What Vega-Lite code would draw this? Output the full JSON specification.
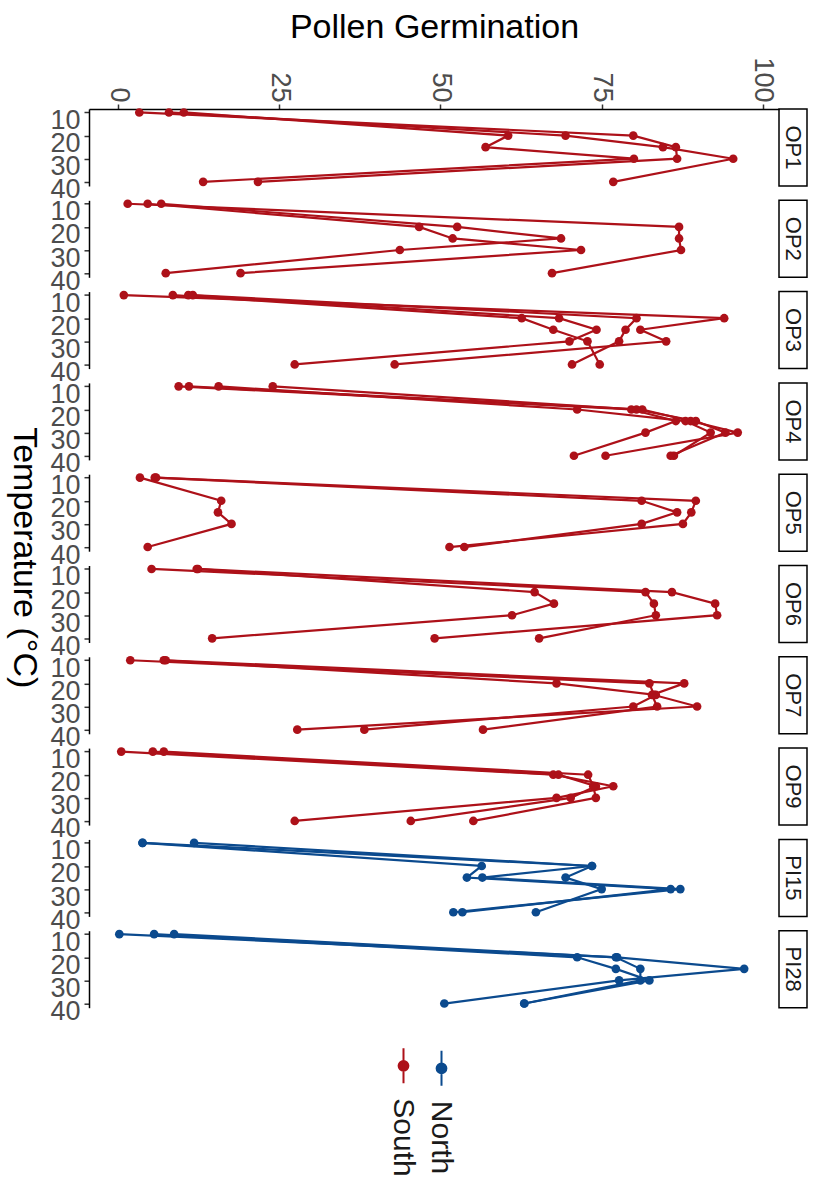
{
  "$schema": "https://vega.github.io/schema/vega-lite/v6.json",
  "padding": {"left": 5, "top": 10, "right": 5, "bottom": 5},
  "background": "white",
  "bounds": "flush",
  "columns": 2,
  "spacing": {"row": 14.3, "column": 0},
  "datasets": {
    "pts": [
      {"g":"OP1","r":"A","t":10,"v":10.2,"s":"South"},{"g":"OP1","r":"A","t":20,"v":60.5,"s":"South"},{"g":"OP1","r":"A","t":25,"v":57.0,"s":"South"},{"g":"OP1","r":"A","t":30,"v":80.0,"s":"South"},{"g":"OP1","r":"A","t":40,"v":13.2,"s":"South"},
      {"g":"OP1","r":"B","t":10,"v":7.9,"s":"South"},{"g":"OP1","r":"B","t":20,"v":69.4,"s":"South"},{"g":"OP1","r":"B","t":25,"v":84.5,"s":"South"},{"g":"OP1","r":"B","t":30,"v":95.4,"s":"South"},{"g":"OP1","r":"B","t":40,"v":76.8,"s":"South"},
      {"g":"OP1","r":"C","t":10,"v":3.3,"s":"South"},{"g":"OP1","r":"C","t":20,"v":79.9,"s":"South"},{"g":"OP1","r":"C","t":25,"v":86.5,"s":"South"},{"g":"OP1","r":"C","t":30,"v":86.7,"s":"South"},{"g":"OP1","r":"C","t":40,"v":21.7,"s":"South"},

      {"g":"OP2","r":"A","t":10,"v":1.5,"s":"South"},{"g":"OP2","r":"A","t":20,"v":87.0,"s":"South"},{"g":"OP2","r":"A","t":25,"v":87.0,"s":"South"},{"g":"OP2","r":"A","t":30,"v":87.3,"s":"South"},{"g":"OP2","r":"A","t":40,"v":67.3,"s":"South"},
      {"g":"OP2","r":"B","t":10,"v":4.6,"s":"South"},{"g":"OP2","r":"B","t":20,"v":46.7,"s":"South"},{"g":"OP2","r":"B","t":25,"v":51.9,"s":"South"},{"g":"OP2","r":"B","t":30,"v":71.8,"s":"South"},{"g":"OP2","r":"B","t":40,"v":19.0,"s":"South"},
      {"g":"OP2","r":"C","t":10,"v":6.7,"s":"South"},{"g":"OP2","r":"C","t":20,"v":52.6,"s":"South"},{"g":"OP2","r":"C","t":25,"v":68.7,"s":"South"},{"g":"OP2","r":"C","t":30,"v":43.7,"s":"South"},{"g":"OP2","r":"C","t":40,"v":7.4,"s":"South"},

      {"g":"OP3","r":"A","t":10,"v":0.9,"s":"South"},{"g":"OP3","r":"A","t":20,"v":94.0,"s":"South"},{"g":"OP3","r":"A","t":25,"v":81.0,"s":"South"},{"g":"OP3","r":"A","t":30,"v":85.0,"s":"South"},{"g":"OP3","r":"A","t":40,"v":42.9,"s":"South"},
      {"g":"OP3","r":"B","t":10,"v":8.5,"s":"South"},{"g":"OP3","r":"B","t":20,"v":62.6,"s":"South"},{"g":"OP3","r":"B","t":25,"v":67.5,"s":"South"},{"g":"OP3","r":"B","t":30,"v":72.8,"s":"South"},{"g":"OP3","r":"B","t":40,"v":74.7,"s":"South"},
      {"g":"OP3","r":"C","t":10,"v":10.9,"s":"South"},{"g":"OP3","r":"C","t":20,"v":68.4,"s":"South"},{"g":"OP3","r":"C","t":25,"v":74.2,"s":"South"},{"g":"OP3","r":"C","t":30,"v":70.0,"s":"South"},{"g":"OP3","r":"C","t":40,"v":27.4,"s":"South"},
      {"g":"OP3","r":"D","t":10,"v":11.6,"s":"South"},{"g":"OP3","r":"D","t":20,"v":80.4,"s":"South"},{"g":"OP3","r":"D","t":25,"v":78.7,"s":"South"},{"g":"OP3","r":"D","t":30,"v":77.7,"s":"South"},{"g":"OP3","r":"D","t":40,"v":70.4,"s":"South"},

      {"g":"OP4","r":"A","t":10,"v":9.4,"s":"South"},{"g":"OP4","r":"A","t":20,"v":79.6,"s":"South"},{"g":"OP4","r":"A","t":25,"v":86.5,"s":"South"},{"g":"OP4","r":"A","t":30,"v":81.8,"s":"South"},{"g":"OP4","r":"A","t":40,"v":70.7,"s":"South"},
      {"g":"OP4","r":"B","t":10,"v":11.0,"s":"South"},{"g":"OP4","r":"B","t":20,"v":81.3,"s":"South"},{"g":"OP4","r":"B","t":25,"v":88.8,"s":"South"},{"g":"OP4","r":"B","t":30,"v":96.1,"s":"South"},{"g":"OP4","r":"B","t":40,"v":75.6,"s":"South"},
      {"g":"OP4","r":"C","t":10,"v":15.6,"s":"South"},{"g":"OP4","r":"C","t":20,"v":71.2,"s":"South"},{"g":"OP4","r":"C","t":25,"v":88.0,"s":"South"},{"g":"OP4","r":"C","t":30,"v":91.9,"s":"South"},{"g":"OP4","r":"C","t":40,"v":86.2,"s":"South"},
      {"g":"OP4","r":"D","t":10,"v":24.0,"s":"South"},{"g":"OP4","r":"D","t":20,"v":80.4,"s":"South"},{"g":"OP4","r":"D","t":25,"v":89.6,"s":"South"},{"g":"OP4","r":"D","t":30,"v":94.2,"s":"South"},{"g":"OP4","r":"D","t":40,"v":85.7,"s":"South"},

      {"g":"OP5","r":"A","t":10,"v":3.4,"s":"South"},{"g":"OP5","r":"A","t":20,"v":16.0,"s":"South"},{"g":"OP5","r":"A","t":25,"v":15.5,"s":"South"},{"g":"OP5","r":"A","t":30,"v":17.6,"s":"South"},{"g":"OP5","r":"A","t":40,"v":4.6,"s":"South"},
      {"g":"OP5","r":"B","t":10,"v":5.7,"s":"South"},{"g":"OP5","r":"B","t":20,"v":81.2,"s":"South"},{"g":"OP5","r":"B","t":25,"v":86.7,"s":"South"},{"g":"OP5","r":"B","t":30,"v":81.2,"s":"South"},{"g":"OP5","r":"B","t":40,"v":53.7,"s":"South"},
      {"g":"OP5","r":"C","t":10,"v":5.9,"s":"South"},{"g":"OP5","r":"C","t":20,"v":89.6,"s":"South"},{"g":"OP5","r":"C","t":25,"v":88.9,"s":"South"},{"g":"OP5","r":"C","t":30,"v":87.6,"s":"South"},{"g":"OP5","r":"C","t":40,"v":51.4,"s":"South"},

      {"g":"OP6","r":"A","t":10,"v":12.2,"s":"South"},{"g":"OP6","r":"A","t":20,"v":64.6,"s":"South"},{"g":"OP6","r":"A","t":25,"v":67.6,"s":"South"},{"g":"OP6","r":"A","t":30,"v":61.1,"s":"South"},{"g":"OP6","r":"A","t":40,"v":14.6,"s":"South"},
      {"g":"OP6","r":"B","t":10,"v":5.2,"s":"South"},{"g":"OP6","r":"B","t":20,"v":81.8,"s":"South"},{"g":"OP6","r":"B","t":25,"v":83.1,"s":"South"},{"g":"OP6","r":"B","t":30,"v":83.4,"s":"South"},{"g":"OP6","r":"B","t":40,"v":65.3,"s":"South"},
      {"g":"OP6","r":"C","t":10,"v":12.4,"s":"South"},{"g":"OP6","r":"C","t":20,"v":85.9,"s":"South"},{"g":"OP6","r":"C","t":25,"v":92.6,"s":"South"},{"g":"OP6","r":"C","t":30,"v":92.9,"s":"South"},{"g":"OP6","r":"C","t":40,"v":49.1,"s":"South"},

      {"g":"OP7","r":"A","t":10,"v":1.9,"s":"South"},{"g":"OP7","r":"A","t":20,"v":82.4,"s":"South"},{"g":"OP7","r":"A","t":25,"v":83.1,"s":"South"},{"g":"OP7","r":"A","t":30,"v":89.8,"s":"South"},{"g":"OP7","r":"A","t":40,"v":27.8,"s":"South"},
      {"g":"OP7","r":"B","t":10,"v":7.1,"s":"South"},{"g":"OP7","r":"B","t":20,"v":68.0,"s":"South"},{"g":"OP7","r":"B","t":25,"v":83.4,"s":"South"},{"g":"OP7","r":"B","t":30,"v":79.9,"s":"South"},{"g":"OP7","r":"B","t":40,"v":38.2,"s":"South"},
      {"g":"OP7","r":"C","t":10,"v":7.4,"s":"South"},{"g":"OP7","r":"C","t":20,"v":87.8,"s":"South"},{"g":"OP7","r":"C","t":25,"v":82.8,"s":"South"},{"g":"OP7","r":"C","t":30,"v":83.6,"s":"South"},{"g":"OP7","r":"C","t":40,"v":56.6,"s":"South"},

      {"g":"OP9","r":"A","t":10,"v":0.5,"s":"South"},{"g":"OP9","r":"A","t":20,"v":67.5,"s":"South"},{"g":"OP9","r":"A","t":25,"v":76.8,"s":"South"},{"g":"OP9","r":"A","t":30,"v":68.0,"s":"South"},{"g":"OP9","r":"A","t":40,"v":27.4,"s":"South"},
      {"g":"OP9","r":"B","t":10,"v":5.4,"s":"South"},{"g":"OP9","r":"B","t":20,"v":68.3,"s":"South"},{"g":"OP9","r":"B","t":25,"v":74.1,"s":"South"},{"g":"OP9","r":"B","t":30,"v":70.2,"s":"South"},{"g":"OP9","r":"B","t":40,"v":45.4,"s":"South"},
      {"g":"OP9","r":"C","t":10,"v":7.1,"s":"South"},{"g":"OP9","r":"C","t":20,"v":72.9,"s":"South"},{"g":"OP9","r":"C","t":25,"v":73.7,"s":"South"},{"g":"OP9","r":"C","t":30,"v":74.1,"s":"South"},{"g":"OP9","r":"C","t":40,"v":55.1,"s":"South"},

      {"g":"PI15","r":"A","t":10,"v":3.8,"s":"North"},{"g":"PI15","r":"A","t":20,"v":56.4,"s":"North"},{"g":"PI15","r":"A","t":25,"v":54.1,"s":"North"},{"g":"PI15","r":"A","t":30,"v":85.7,"s":"North"},{"g":"PI15","r":"A","t":40,"v":53.4,"s":"North"},
      {"g":"PI15","r":"B","t":10,"v":3.8,"s":"North"},{"g":"PI15","r":"B","t":20,"v":73.5,"s":"North"},{"g":"PI15","r":"B","t":25,"v":56.5,"s":"North"},{"g":"PI15","r":"B","t":30,"v":87.2,"s":"North"},{"g":"PI15","r":"B","t":40,"v":52.0,"s":"North"},
      {"g":"PI15","r":"C","t":10,"v":11.8,"s":"North"},{"g":"PI15","r":"C","t":20,"v":73.5,"s":"North"},{"g":"PI15","r":"C","t":25,"v":69.4,"s":"North"},{"g":"PI15","r":"C","t":30,"v":75.0,"s":"North"},{"g":"PI15","r":"C","t":40,"v":64.8,"s":"North"},

      {"g":"PI28","r":"A","t":10,"v":0.2,"s":"North"},{"g":"PI28","r":"A","t":20,"v":77.4,"s":"North"},{"g":"PI28","r":"A","t":25,"v":97.1,"s":"North"},{"g":"PI28","r":"A","t":30,"v":77.7,"s":"North"},{"g":"PI28","r":"A","t":40,"v":50.6,"s":"North"},
      {"g":"PI28","r":"B","t":10,"v":5.6,"s":"North"},{"g":"PI28","r":"B","t":20,"v":71.2,"s":"North"},{"g":"PI28","r":"B","t":25,"v":77.2,"s":"North"},{"g":"PI28","r":"B","t":30,"v":82.4,"s":"North"},{"g":"PI28","r":"B","t":40,"v":63.0,"s":"North"},
      {"g":"PI28","r":"C","t":10,"v":8.7,"s":"North"},{"g":"PI28","r":"C","t":20,"v":77.2,"s":"North"},{"g":"PI28","r":"C","t":25,"v":81.0,"s":"North"},{"g":"PI28","r":"C","t":30,"v":81.0,"s":"North"},{"g":"PI28","r":"C","t":40,"v":63.0,"s":"North"}
    ],
    "panels": [
      {"g":"OP1"},{"g":"OP2"},{"g":"OP3"},{"g":"OP4"},{"g":"OP5"},{"g":"OP6"},{"g":"OP7"},{"g":"OP9"},{"g":"PI15"},{"g":"PI28"}
    ]
  },
  "concat": [
      {"width": 690, "height": 77, "data": {"name": "pts"}, "transform": [{"filter": "datum.g === 'OP1'"}],
       "encoding": {
         "x": {"field": "v", "type": "quantitative", "scale": {"domain": [-4.5, 102.5], "nice": false, "zero": false},
               "axis": {"orient": "top", "values": [0, 25, 50, 75, 100], "labelAngle": 90, "labelAlign": "right", "labelBaseline": "middle", "tickSize": 5, "labelPadding": 2, "title": "Pollen Germination", "titleFontSize": 34, "titlePadding": 12}},
         "y": {"field": "t", "type": "quantitative", "scale": {"domain": [8.5, 41.8], "reverse": true, "nice": false, "zero": false}, "axis": {"values": [10, 20, 30, 40], "title": null}},
         "color": {"field": "s", "type": "nominal", "scale": {"domain": ["South", "North"], "range": ["#AD1119", "#0B4A8E"]},
                   "legend": {"title": null,
                     "encode": {
                       "labels": {"update": {"angle": {"value": 90}, "align": {"value": "left"}, "baseline": {"value": "middle"}, "x": {"value": 18}, "y": {"value": 51}}},
                       "symbols": {"update": {"fill": {"scale": "color", "field": "value"}, "stroke": {"scale": "color", "field": "value"}, "strokeWidth": {"value": 2}}}
                     }}},
         "detail": {"field": "r"},
         "order": {"field": "t", "type": "quantitative"}
       },
       "layer": [{"mark": {"type": "line", "strokeWidth": 2.2}}, {"mark": {"type": "circle", "size": 75, "opacity": 1}}]},
      {"width": 28, "height": 77, "data": {"name": "panels"}, "transform": [{"filter": "datum.g === 'OP1'"}], "view": {"stroke": "black", "strokeWidth": 1.5},
       "mark": {"type": "text", "angle": 90, "fontSize": 22, "color": "#1a1a1a"}, "encoding": {"text": {"field": "g", "type": "nominal"}}},

      {"width": 690, "height": 77, "data": {"name": "pts"}, "transform": [{"filter": "datum.g === 'OP2'"}],
       "encoding": {
         "x": {"field": "v", "type": "quantitative", "scale": {"domain": [-4.5, 102.5], "nice": false, "zero": false}, "axis": null},
         "y": {"field": "t", "type": "quantitative", "scale": {"domain": [8.5, 41.8], "reverse": true, "nice": false, "zero": false}, "axis": {"values": [10, 20, 30, 40], "title": null}},
         "color": {"field": "s", "type": "nominal", "scale": {"domain": ["South", "North"], "range": ["#AD1119", "#0B4A8E"]}},
         "detail": {"field": "r"},
         "order": {"field": "t", "type": "quantitative"}
       },
       "layer": [{"mark": {"type": "line", "strokeWidth": 2.2}}, {"mark": {"type": "circle", "size": 75, "opacity": 1}}]},
      {"width": 28, "height": 77, "data": {"name": "panels"}, "transform": [{"filter": "datum.g === 'OP2'"}], "view": {"stroke": "black", "strokeWidth": 1.5},
       "mark": {"type": "text", "angle": 90, "fontSize": 22, "color": "#1a1a1a"}, "encoding": {"text": {"field": "g", "type": "nominal"}}},

      {"width": 690, "height": 77, "data": {"name": "pts"}, "transform": [{"filter": "datum.g === 'OP3'"}],
       "encoding": {
         "x": {"field": "v", "type": "quantitative", "scale": {"domain": [-4.5, 102.5], "nice": false, "zero": false}, "axis": null},
         "y": {"field": "t", "type": "quantitative", "scale": {"domain": [8.5, 41.8], "reverse": true, "nice": false, "zero": false}, "axis": {"values": [10, 20, 30, 40], "title": null}},
         "color": {"field": "s", "type": "nominal", "scale": {"domain": ["South", "North"], "range": ["#AD1119", "#0B4A8E"]}},
         "detail": {"field": "r"},
         "order": {"field": "t", "type": "quantitative"}
       },
       "layer": [{"mark": {"type": "line", "strokeWidth": 2.2}}, {"mark": {"type": "circle", "size": 75, "opacity": 1}}]},
      {"width": 28, "height": 77, "data": {"name": "panels"}, "transform": [{"filter": "datum.g === 'OP3'"}], "view": {"stroke": "black", "strokeWidth": 1.5},
       "mark": {"type": "text", "angle": 90, "fontSize": 22, "color": "#1a1a1a"}, "encoding": {"text": {"field": "g", "type": "nominal"}}},

      {"width": 690, "height": 77, "data": {"name": "pts"}, "transform": [{"filter": "datum.g === 'OP4'"}],
       "encoding": {
         "x": {"field": "v", "type": "quantitative", "scale": {"domain": [-4.5, 102.5], "nice": false, "zero": false}, "axis": null},
         "y": {"field": "t", "type": "quantitative", "scale": {"domain": [8.5, 41.8], "reverse": true, "nice": false, "zero": false}, "axis": {"values": [10, 20, 30, 40], "title": null}},
         "color": {"field": "s", "type": "nominal", "scale": {"domain": ["South", "North"], "range": ["#AD1119", "#0B4A8E"]}},
         "detail": {"field": "r"},
         "order": {"field": "t", "type": "quantitative"}
       },
       "layer": [{"mark": {"type": "line", "strokeWidth": 2.2}}, {"mark": {"type": "circle", "size": 75, "opacity": 1}}]},
      {"width": 28, "height": 77, "data": {"name": "panels"}, "transform": [{"filter": "datum.g === 'OP4'"}], "view": {"stroke": "black", "strokeWidth": 1.5},
       "mark": {"type": "text", "angle": 90, "fontSize": 22, "color": "#1a1a1a"}, "encoding": {"text": {"field": "g", "type": "nominal"}}},

      {"width": 690, "height": 77, "data": {"name": "pts"}, "transform": [{"filter": "datum.g === 'OP5'"}],
       "encoding": {
         "x": {"field": "v", "type": "quantitative", "scale": {"domain": [-4.5, 102.5], "nice": false, "zero": false}, "axis": null},
         "y": {"field": "t", "type": "quantitative", "scale": {"domain": [8.5, 41.8], "reverse": true, "nice": false, "zero": false},
               "axis": {"values": [10, 20, 30, 40], "title": "Temperature (°C)", "titleAngle": 90, "titleFontSize": 34, "titleX": -66, "titleY": 83, "titleAlign": "center", "titleBaseline": "middle"}},
         "color": {"field": "s", "type": "nominal", "scale": {"domain": ["South", "North"], "range": ["#AD1119", "#0B4A8E"]}},
         "detail": {"field": "r"},
         "order": {"field": "t", "type": "quantitative"}
       },
       "layer": [{"mark": {"type": "line", "strokeWidth": 2.2}}, {"mark": {"type": "circle", "size": 75, "opacity": 1}}]},
      {"width": 28, "height": 77, "data": {"name": "panels"}, "transform": [{"filter": "datum.g === 'OP5'"}], "view": {"stroke": "black", "strokeWidth": 1.5},
       "mark": {"type": "text", "angle": 90, "fontSize": 22, "color": "#1a1a1a"}, "encoding": {"text": {"field": "g", "type": "nominal"}}},

      {"width": 690, "height": 77, "data": {"name": "pts"}, "transform": [{"filter": "datum.g === 'OP6'"}],
       "encoding": {
         "x": {"field": "v", "type": "quantitative", "scale": {"domain": [-4.5, 102.5], "nice": false, "zero": false}, "axis": null},
         "y": {"field": "t", "type": "quantitative", "scale": {"domain": [8.5, 41.8], "reverse": true, "nice": false, "zero": false}, "axis": {"values": [10, 20, 30, 40], "title": null}},
         "color": {"field": "s", "type": "nominal", "scale": {"domain": ["South", "North"], "range": ["#AD1119", "#0B4A8E"]}},
         "detail": {"field": "r"},
         "order": {"field": "t", "type": "quantitative"}
       },
       "layer": [{"mark": {"type": "line", "strokeWidth": 2.2}}, {"mark": {"type": "circle", "size": 75, "opacity": 1}}]},
      {"width": 28, "height": 77, "data": {"name": "panels"}, "transform": [{"filter": "datum.g === 'OP6'"}], "view": {"stroke": "black", "strokeWidth": 1.5},
       "mark": {"type": "text", "angle": 90, "fontSize": 22, "color": "#1a1a1a"}, "encoding": {"text": {"field": "g", "type": "nominal"}}},

      {"width": 690, "height": 77, "data": {"name": "pts"}, "transform": [{"filter": "datum.g === 'OP7'"}],
       "encoding": {
         "x": {"field": "v", "type": "quantitative", "scale": {"domain": [-4.5, 102.5], "nice": false, "zero": false}, "axis": null},
         "y": {"field": "t", "type": "quantitative", "scale": {"domain": [8.5, 41.8], "reverse": true, "nice": false, "zero": false}, "axis": {"values": [10, 20, 30, 40], "title": null}},
         "color": {"field": "s", "type": "nominal", "scale": {"domain": ["South", "North"], "range": ["#AD1119", "#0B4A8E"]}},
         "detail": {"field": "r"},
         "order": {"field": "t", "type": "quantitative"}
       },
       "layer": [{"mark": {"type": "line", "strokeWidth": 2.2}}, {"mark": {"type": "circle", "size": 75, "opacity": 1}}]},
      {"width": 28, "height": 77, "data": {"name": "panels"}, "transform": [{"filter": "datum.g === 'OP7'"}], "view": {"stroke": "black", "strokeWidth": 1.5},
       "mark": {"type": "text", "angle": 90, "fontSize": 22, "color": "#1a1a1a"}, "encoding": {"text": {"field": "g", "type": "nominal"}}},

      {"width": 690, "height": 77, "data": {"name": "pts"}, "transform": [{"filter": "datum.g === 'OP9'"}],
       "encoding": {
         "x": {"field": "v", "type": "quantitative", "scale": {"domain": [-4.5, 102.5], "nice": false, "zero": false}, "axis": null},
         "y": {"field": "t", "type": "quantitative", "scale": {"domain": [8.5, 41.8], "reverse": true, "nice": false, "zero": false}, "axis": {"values": [10, 20, 30, 40], "title": null}},
         "color": {"field": "s", "type": "nominal", "scale": {"domain": ["South", "North"], "range": ["#AD1119", "#0B4A8E"]}},
         "detail": {"field": "r"},
         "order": {"field": "t", "type": "quantitative"}
       },
       "layer": [{"mark": {"type": "line", "strokeWidth": 2.2}}, {"mark": {"type": "circle", "size": 75, "opacity": 1}}]},
      {"width": 28, "height": 77, "data": {"name": "panels"}, "transform": [{"filter": "datum.g === 'OP9'"}], "view": {"stroke": "black", "strokeWidth": 1.5},
       "mark": {"type": "text", "angle": 90, "fontSize": 22, "color": "#1a1a1a"}, "encoding": {"text": {"field": "g", "type": "nominal"}}},

      {"width": 690, "height": 77, "data": {"name": "pts"}, "transform": [{"filter": "datum.g === 'PI15'"}],
       "encoding": {
         "x": {"field": "v", "type": "quantitative", "scale": {"domain": [-4.5, 102.5], "nice": false, "zero": false}, "axis": null},
         "y": {"field": "t", "type": "quantitative", "scale": {"domain": [8.5, 41.8], "reverse": true, "nice": false, "zero": false}, "axis": {"values": [10, 20, 30, 40], "title": null}},
         "color": {"field": "s", "type": "nominal", "scale": {"domain": ["South", "North"], "range": ["#AD1119", "#0B4A8E"]}},
         "detail": {"field": "r"},
         "order": {"field": "t", "type": "quantitative"}
       },
       "layer": [{"mark": {"type": "line", "strokeWidth": 2.2}}, {"mark": {"type": "circle", "size": 75, "opacity": 1}}]},
      {"width": 28, "height": 77, "data": {"name": "panels"}, "transform": [{"filter": "datum.g === 'PI15'"}], "view": {"stroke": "black", "strokeWidth": 1.5},
       "mark": {"type": "text", "angle": 90, "fontSize": 22, "color": "#1a1a1a"}, "encoding": {"text": {"field": "g", "type": "nominal"}}},

      {"width": 690, "height": 77, "data": {"name": "pts"}, "transform": [{"filter": "datum.g === 'PI28'"}],
       "encoding": {
         "x": {"field": "v", "type": "quantitative", "scale": {"domain": [-4.5, 102.5], "nice": false, "zero": false}, "axis": null},
         "y": {"field": "t", "type": "quantitative", "scale": {"domain": [8.5, 41.8], "reverse": true, "nice": false, "zero": false}, "axis": {"values": [10, 20, 30, 40], "title": null}},
         "color": {"field": "s", "type": "nominal", "scale": {"domain": ["South", "North"], "range": ["#AD1119", "#0B4A8E"]}},
         "detail": {"field": "r"},
         "order": {"field": "t", "type": "quantitative"}
       },
       "layer": [{"mark": {"type": "line", "strokeWidth": 2.2}}, {"mark": {"type": "circle", "size": 75, "opacity": 1}}]},
      {"width": 28, "height": 77, "data": {"name": "panels"}, "transform": [{"filter": "datum.g === 'PI28'"}], "view": {"stroke": "black", "strokeWidth": 1.5},
       "mark": {"type": "text", "angle": 90, "fontSize": 22, "color": "#1a1a1a"}, "encoding": {"text": {"field": "g", "type": "nominal"}}}
  ],
  "config": {
    "font": "Liberation Sans",
    "view": {"stroke": null},
    "axis": {"domainColor": "black", "domainWidth": 1.5, "tickColor": "#333333", "tickWidth": 1.5, "tickSize": 5, "labelColor": "#4d4d4d", "labelFontSize": 27, "labelPadding": 4, "labelOverlap": false, "grid": false, "titleFontWeight": "normal", "titleColor": "black", "titleFontSize": 34},
    "axisY": {"labelOffset": 8},
    "legend": {"orient": "none", "legendX": 296, "legendY": 938, "direction": "horizontal", "symbolType": "M0,-1L0,1M0.28,0A0.28,0.28,0,1,1,-0.28,0A0.28,0.28,0,1,1,0.28,0Z", "symbolSize": 1225, "symbolStrokeWidth": 2, "labelFontSize": 30, "labelColor": "#1a1a1a", "columnPadding": 4}
  }
}
